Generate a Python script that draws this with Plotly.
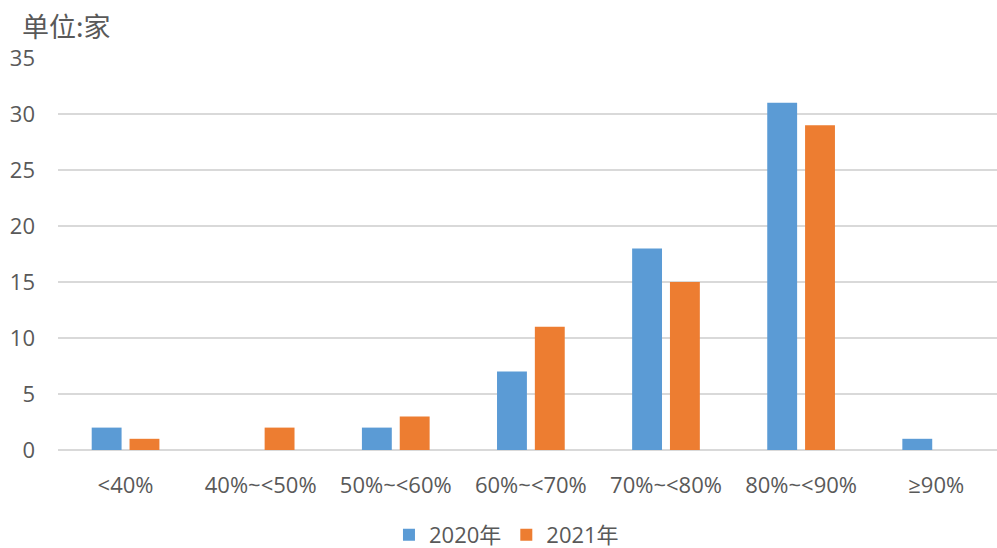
import plotly.graph_objects as go

categories = ["<40%", "40%~<50%", "50%~<60%", "60%~<70%", "70%~<80%", "80%~<90%", "≥90%"]
values_2020 = [2, 0, 2, 7, 18, 31, 1]
values_2021 = [1, 2, 3, 11, 15, 29, 0]
series_names = ["2020年", "2021年"]
y_ticks = [0, 5, 10, 15, 20, 25, 30, 35]

font_family = "Open Sans, Noto Sans CJK SC, sans-serif"
text_color = "#595959"

fig = go.Figure()
fig.add_trace(go.Bar(x=list(range(len(categories))), y=values_2020, name=series_names[0],
                     marker=dict(color="#5b9bd5", line=dict(width=0))))
fig.add_trace(go.Bar(x=list(range(len(categories))), y=values_2021, name=series_names[1],
                     marker=dict(color="#ed7d31", line=dict(width=0))))

fig.update_layout(
    width=997, height=548,
    margin=dict(l=58, r=0, t=58, b=98),
    paper_bgcolor="white", plot_bgcolor="white",
    barmode="group", bargap=0.44, bargroupgap=0.21,
    font=dict(family=font_family, color=text_color, size=22),
    showlegend=True,
    legend=dict(orientation="h", xref="container", yref="container",
                x=0.508, xanchor="center", y=0.024, yanchor="middle",
                font=dict(size=22, color=text_color), itemwidth=30,
                traceorder="normal"),
    xaxis=dict(tickmode="array", tickvals=list(range(len(categories))), ticktext=categories,
               range=[-0.5, 6.45], showgrid=False, zeroline=False, showline=False,
               ticks="", ticklabelstandoff=20, tickfont=dict(size=22, color=text_color)),
    yaxis=dict(range=[0, 35], tickmode="array", tickvals=y_ticks, showgrid=True,
               gridcolor="#d9d9d9", gridwidth=1.5, zeroline=True, zerolinecolor="#d9d9d9",
               zerolinewidth=1.5, showline=False, ticks="", ticklabelstandoff=22,
               tickfont=dict(size=22, color=text_color)),
    annotations=[dict(text="单位:家", xref="paper", yref="paper", x=0, y=1,
                      xanchor="left", yanchor="middle", xshift=-38, yshift=33,
                      showarrow=False, font=dict(size=27, color=text_color,
                                                 family="Noto Sans CJK SC, sans-serif"))],
)

fig.write_html("out.html")
